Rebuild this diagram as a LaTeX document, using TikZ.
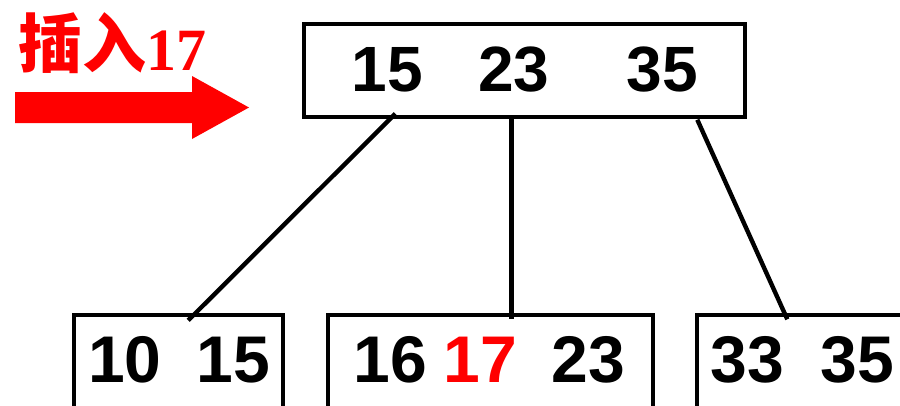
\documentclass[tikz,border=0pt]{standalone}
\usepackage{fontspec}
\setmainfont{Liberation Sans}
\newfontfamily\cjkfont{Noto Sans CJK SC}
\newfontfamily\seriffont{Liberation Serif}
\begin{document}
\begin{tikzpicture}[x=1pt,y=-1pt,
  keybox/.style={draw=black,line width=3.4pt,inner sep=0pt},
  key/.style={font=\fontsize{66}{66}\selectfont\bfseries,anchor=base,inner sep=0pt},
  link/.style={draw=black,line width=4.4pt}]
\useasboundingbox[fill=white] (0,0) rectangle (900,405);
\clip (0,0) rectangle (900,405);
% boxes
\node[keybox,minimum width=441pt,minimum height=93pt] (top) at (524.5,70.5) {};
\node[keybox,minimum width=209pt,minimum height=150pt] (left) at (178.5,390) {};
\node[keybox,minimum width=325pt,minimum height=150pt] (mid) at (490.5,390) {};
\node[keybox,minimum width=300pt,minimum height=150pt] (right) at (847,390) {};
% keys
\node[key,font=\fontsize{64}{64}\selectfont\bfseries] (t1) at (387.5,91) {15};
\node[key,font=\fontsize{64}{64}\selectfont\bfseries] (t2) at (514,91) {23};
\node[key,font=\fontsize{64}{64}\selectfont\bfseries] (t3) at (662.5,91) {35};
\node[key] (l1) at (125,382) {10};
\node[key] (l2) at (233.5,382) {15};
\node[key] (m1) at (390.5,382) {16};
\node[key,text={rgb,255:red,255;green,0;blue,0}] (m2) at (480.5,382) {17};
\node[key] (m3) at (588.5,382) {23};
\node[key] (r1) at (747.5,382) {33};
\node[key] (r2) at (857.5,382) {35};
% connectors
\draw[link] ([xshift=93pt,yshift=5pt]top.south west) -- ([xshift=116pt,yshift=-7pt]left.north west);
\draw[link] ([xshift=209pt]top.south west) -- ([xshift=185pt,yshift=-6pt]mid.north west);
\draw[link] ([xshift=395pt,yshift=-1pt]top.south west) -- ([xshift=92pt,yshift=-6pt]right.north west);
% insert label and arrow
\definecolor{pptred}{RGB}{255,0,0}
\node[text=pptred,font=\cjkfont\bfseries\fontsize{64}{64}\selectfont,anchor=base,inner sep=0pt] (ins) at (83,67) {插入};
\node[text=pptred,font=\seriffont\bfseries\fontsize{60}{60}\selectfont,anchor=base,inner sep=0pt] (num) at (176,70) {17};
\fill[pptred] (15,92) -- (192,92) -- (192,76) -- (249,107.5) -- (192,139) -- (192,123) -- (15,123) -- cycle;
\end{tikzpicture}
\end{document}
